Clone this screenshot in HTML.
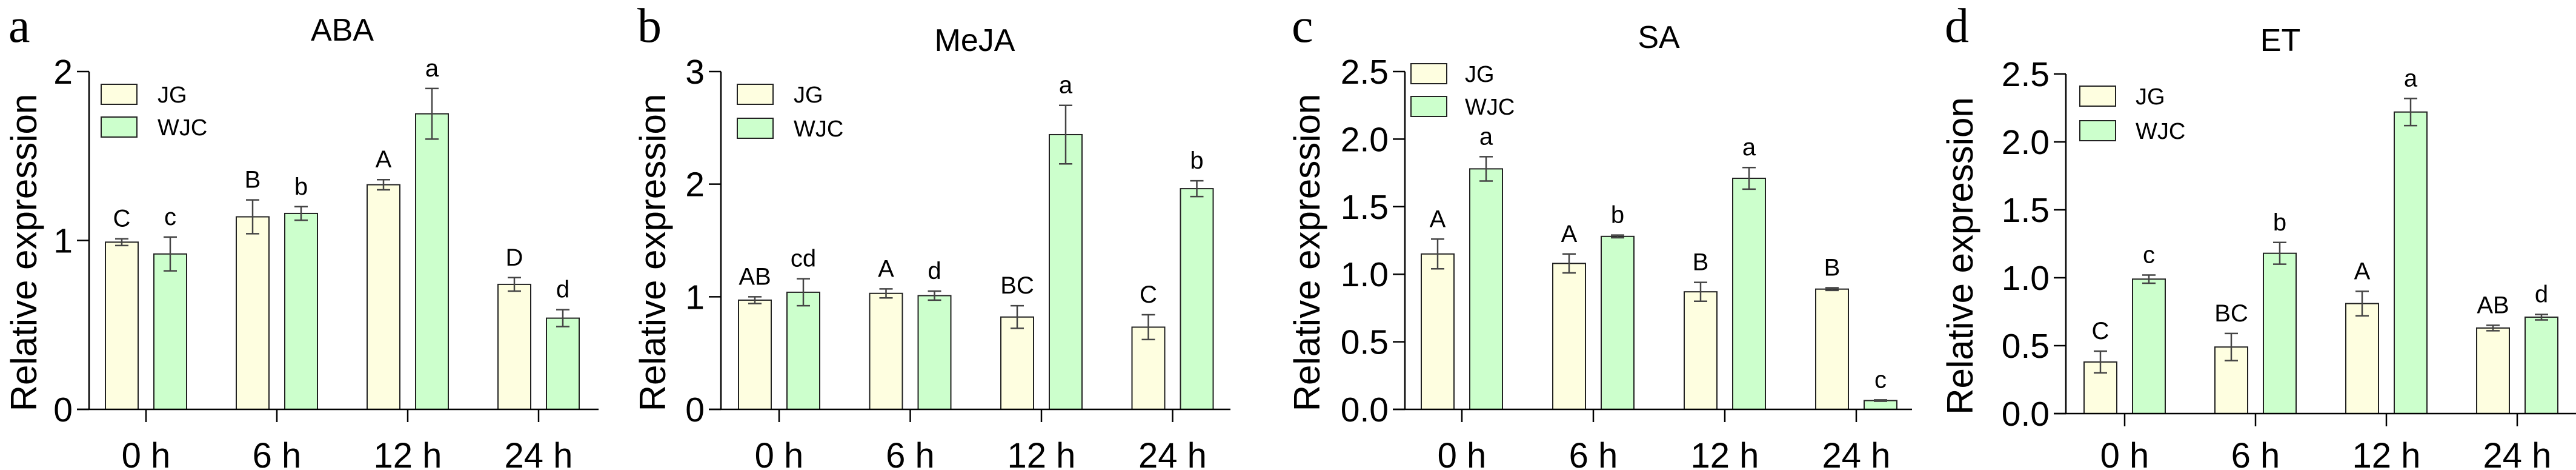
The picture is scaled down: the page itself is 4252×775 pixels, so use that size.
<!DOCTYPE html>
<html><head><meta charset="utf-8">
<style>
html,body{margin:0;padding:0;background:#fff;}
svg{display:block;}
</style></head>
<body>
<svg id="fig" width="4252" height="775" viewBox="0 0 4252 775" xmlns="http://www.w3.org/2000/svg"></svg>
<script>
const categories = ["0 h","6 h","12 h","24 h"];
const seriesNames = ["JG","WJC"];
// ABA
const abaJG = [0.99,1.14,1.33,0.74];
const abaJGErr = [0.02,0.10,0.03,0.04];
const abaWJC = [0.92,1.16,1.75,0.54];
const abaWJCErr = [0.10,0.04,0.15,0.05];
const abaLettersJG = ["C","B","A","D"];
const abaLettersWJC = ["c","b","a","d"];
const abaTicks = ["0","1","2"];
// MeJA
const mejaJG = [0.97,1.03,0.82,0.73];
const mejaJGErr = [0.03,0.04,0.10,0.11];
const mejaWJC = [1.04,1.01,2.44,1.96];
const mejaWJCErr = [0.12,0.04,0.26,0.07];
const mejaLettersJG = ["AB","A","BC","C"];
const mejaLettersWJC = ["cd","d","a","b"];
const mejaTicks = ["0","1","2","3"];
// SA
const saJG = [1.15,1.08,0.87,0.89];
const saJGErr = [0.11,0.07,0.07,0.01];
const saWJC = [1.78,1.28,1.71,0.065];
const saWJCErr = [0.09,0.01,0.08,0.005];
const saLettersJG = ["A","A","B","B"];
const saLettersWJC = ["a","b","a","c"];
const saTicks = ["0.0","0.5","1.0","1.5","2.0","2.5"];
// ET
const etJG = [0.38,0.49,0.81,0.63];
const etJGErr = [0.08,0.10,0.09,0.02];
const etWJC = [0.99,1.18,2.22,0.71];
const etWJCErr = [0.03,0.08,0.10,0.02];
const etLettersJG = ["C","BC","A","AB"];
const etLettersWJC = ["c","b","a","d"];
const etTicks = ["0.0","0.5","1.0","1.5","2.0","2.5"];

const NS="http://www.w3.org/2000/svg";
const svg=document.getElementById('fig');
function mk(tag,attrs,parent,text){
  const e=document.createElementNS(NS,tag);
  for(const k in attrs)e.setAttribute(k,attrs[k]);
  if(text!==undefined)e.textContent=text;
  (parent||svg).appendChild(e);return e;
}
const SANS='"Liberation Sans",sans-serif';
const panels=[
 {letter:"a",title:"ABA",ax:147,y0:675,ytop:118,xend:988,max:2,ticks:abaTicks,t0:241,step:216,jg:abaJG,jge:abaJGErr,wj:abaWJC,wje:abaWJCErr,lj:abaLettersJG,lw:abaLettersWJC,lx:14,tx:565,ty:67,leg:[167,139,193,260]},
 {letter:"b",title:"MeJA",ax:1190,y0:675,ytop:118,xend:2031,max:3,ticks:mejaTicks,t0:1286,step:216.5,jg:mejaJG,jge:mejaJGErr,wj:mejaWJC,wje:mejaWJCErr,lj:mejaLettersJG,lw:mejaLettersWJC,lx:1052,tx:1609,ty:84,leg:[1217,139,195,1310]},
 {letter:"c",title:"SA",ax:2319,y0:675,ytop:118,xend:3156,max:2.5,ticks:saTicks,t0:2413,step:217,jg:saJG,jge:saJGErr,wj:saWJC,wje:saWJCErr,lj:saLettersJG,lw:saLettersWJC,lx:2132,tx:2738,ty:79,leg:[2329,105,159,2418]},
 {letter:"d",title:"ET",ax:3410,y0:682,ytop:122,xend:4252,max:2.5,ticks:etTicks,t0:3507,step:216,jg:etJG,jge:etJGErr,wj:etWJC,wje:etWJCErr,lj:etLettersJG,lw:etLettersWJC,lx:3210,tx:3764,ty:84,leg:[3433,142,199,3525]}
];
panels.forEach((p,pi)=>{
  const g=mk('g',{});
  
  
  const y=v=>p.y0-(v/p.max)*(p.y0-p.ytop);
  const xc=i=>p.t0+i*p.step;
  let t;
  t=mk('text',{x:p.lx,y:69,'font-family':'"Liberation Serif",serif','font-size':80},g,p.letter);
  
  t=mk('text',{x:p.tx,y:p.ty,'font-family':SANS,'font-size':52,'text-anchor':'middle'},g,p.title);
  
  t=mk('text',{x:0,y:0,'font-family':SANS,'font-size':60,'text-anchor':'middle',transform:`translate(${p.lx-12+58},${(p.ytop+p.y0)/2+20}) rotate(-90)`},g,'Relative expression');
  
  let l=mk('line',{x1:p.ax,y1:p.ytop,x2:p.ax,y2:p.y0,stroke:'#000','stroke-width':2.5},g);
  
  const nT=p.ticks.length;
  p.ticks.forEach((lab,i)=>{
    const v=p.max*i/(nT-1);const yy=y(v);
    let tk=mk('line',{x1:p.ax-20,y1:yy,x2:p.ax,y2:yy,stroke:'#000','stroke-width':2.5},g);
    
    let tl=mk('text',{x:p.ax-27,y:yy+20,'font-family':SANS,'font-size':57,'text-anchor':'end'},g,lab);
    
  });
  const W=54,off=40;
  const drawBar=(v,e,cx,fill,lett,nm)=>{
    let r=mk('rect',{x:cx-W/2,y:y(v),width:W,height:p.y0-y(v),fill:fill,stroke:'#222','stroke-width':2},g);
    
    const top=y(v+e),bot=y(Math.max(0,v-e));
    let eb=mk('path',{d:`M${cx},${top}V${bot}M${cx-11},${top}H${cx+11}M${cx-11},${bot}H${cx+11}`,stroke:'#444','stroke-width':2.5,fill:'none'},g);
    
    let lt=mk('text',{x:cx,y:top-20,'font-family':SANS,'font-size':40,'text-anchor':'middle'},g,lett);
    
  };
  categories.forEach((c,i)=>{
    drawBar(p.jg[i],p.jge[i],xc(i)-off,'#fefee0',p.lj[i],'bar-jg-'+i);
    drawBar(p.wj[i],p.wje[i],xc(i)+off,'#ccffcc',p.lw[i],'bar-wjc-'+i);
    let tk=mk('line',{x1:xc(i),y1:p.y0,x2:xc(i),y2:p.y0+21,stroke:'#000','stroke-width':2.5},g);
    
    let tl=mk('text',{x:xc(i),y:771,'font-family':SANS,'font-size':58,'text-anchor':'middle'},g,c);
    
  });
  l=mk('line',{x1:p.ax-20,y1:p.y0,x2:p.xend,y2:p.y0,stroke:'#000','stroke-width':2.5},g);
  
  const [lx,ly1,ly2,ltx]=p.leg;
  [[ly1,'#fefee0',seriesNames[0]],[ly2,'#ccffcc',seriesNames[1]]].forEach(([yy,f,n])=>{
    let r=mk('rect',{x:lx,y:yy,width:59,height:33,fill:f,stroke:'#222','stroke-width':2},g);
    
    let tx=mk('text',{x:ltx,y:yy+30,'font-family':SANS,'font-size':38},g,n);
    
  });
});
</script>
</body></html>
